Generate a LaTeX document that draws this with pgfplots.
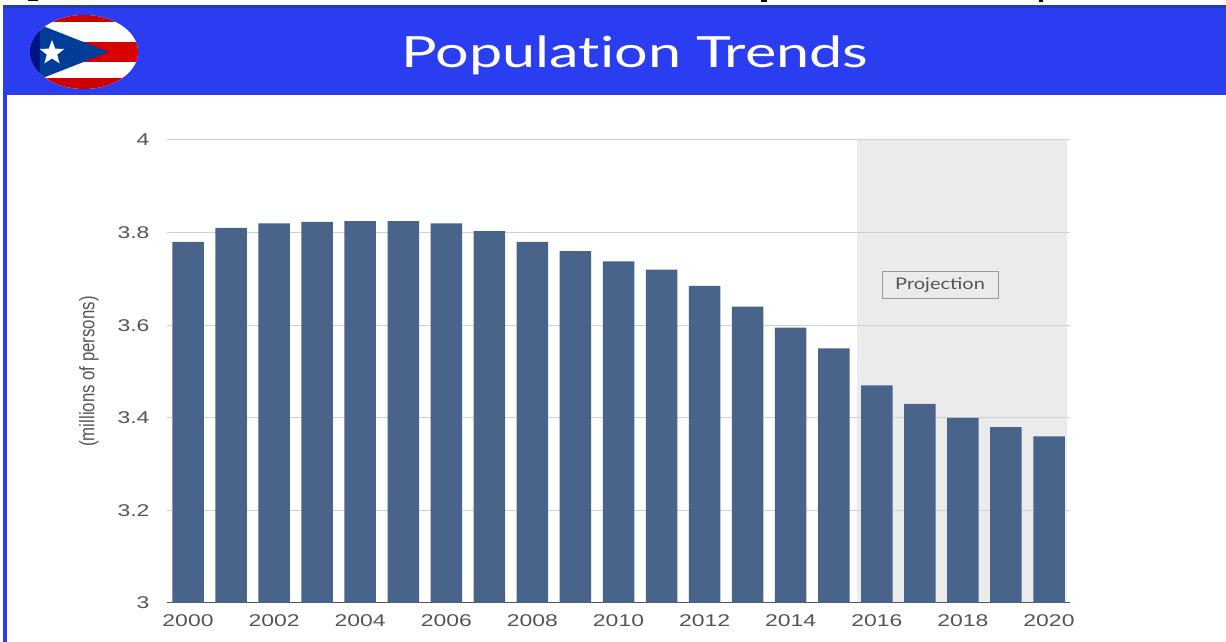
\documentclass[border=0pt]{standalone}
\usepackage{fontspec}
\setmainfont{Liberation Sans}
\newfontfamily\widefont[FakeStretch=1.35]{Liberation Sans}
\newfontfamily\labelfont[FakeStretch=0.8]{Liberation Sans}
\newfontfamily\titlefont[FakeStretch=1.38,Ligatures=NoCommon]{Lato}
\newfontfamily\boxfont[FakeStretch=1.25]{Lato}
\usepackage{pgfplots}
\pgfplotsset{compat=1.18}
\usepackage{pgfplotstable}
\usetikzlibrary{shapes.geometric}

\definecolor{header}{HTML}{2A3DF0}
\definecolor{headerdark}{HTML}{1F3FB0}
\definecolor{barblue}{HTML}{48648A}
\definecolor{band}{HTML}{EBEBEC}
\definecolor{gridgray}{HTML}{D0D0D0}
\definecolor{labelgray}{HTML}{555555}

\pgfplotstableread{
year pop
2000 3.780
2001 3.810
2002 3.820
2003 3.823
2004 3.825
2005 3.825
2006 3.820
2007 3.803
2008 3.780
2009 3.760
2010 3.738
2011 3.720
2012 3.685
2013 3.640
2014 3.595
2015 3.550
2016 3.470
2017 3.430
2018 3.400
2019 3.380
2020 3.360
}\poptable

\begin{document}
\begin{tikzpicture}
    \begin{scope}[x=1pt,y=1pt]
    \useasboundingbox (0,0) rectangle (1226,642);

    % page furniture, coordinates are pixels with y counted from the bottom
    % bits of the cropped caption line above the header
    \fill[black] (28,642) rectangle (38,641);
    \fill[black] (761,642) rectangle (767,640);
    \fill[black] (1039,642) rectangle (1043,640);
    \fill[header] (3,0) rectangle (7,636);
    \fill[header] (3,547) rectangle (1226,636);
    \fill[headerdark] (3,634) rectangle (1226,637);
    \node[anchor=base,text=white,font=\titlefont\fontsize{43}{43}\selectfont,inner sep=0pt] at (635,574) {Population Trends};

    % flag
    \begin{scope}
        \clip (84,590) ellipse (54 and 37);
        \fill[white] (30,553) rectangle (138,627);
        \fill[red!80!black] (30,620) rectangle (138,627);
        \fill[red!85!black] (30,580) rectangle (138,600);
        \fill[red!80!black] (30,553) rectangle (138,564);
        \fill[blue!60!cyan!60!black] (30,621) -- (109,590) -- (30,559) -- cycle;
        \fill[blue!50!black,opacity=.7] (30,553) rectangle (40,627);
    \end{scope}
    \node[star,star points=5,star point ratio=2.4,fill=white,minimum size=26pt,inner sep=0pt] at (52,589) {};
    \end{scope}

    \begin{axis}[
        at={(167pt,39pt)},
        anchor=south west,
        scale only axis,
        width=903pt,
        height=463pt,
        set layers=standard,
        xmin=1999.512, xmax=2020.488,
        ymin=3, ymax=4,
        axis x line=bottom,
        axis y line=left,
        x axis line style={-,color=labelgray,line width=1pt},
        y axis line style={draw=none},
        major tick length=0pt,
        xtick={2000,2002,...,2020},
        ytick={3,3.2,3.4,3.6,3.8,4},
        yticklabels={3,3.2,3.4,3.6,3.8,4},
        /pgf/number format/1000 sep={},
        /pgf/number format/assume math mode=true,
        xticklabel style={font=\widefont\fontsize{17}{17}\selectfont,text=labelgray,yshift=-8pt},
        yticklabel style={font=\widefont\fontsize{17}{17}\selectfont,text=labelgray,xshift=-14pt},
        ymajorgrids,
        grid style={color=gridgray,line width=1pt},
        ylabel={(millions of persons)},
        ylabel shift=12pt,
        ylabel style={font=\labelfont\fontsize{21}{21}\selectfont,text=labelgray},
    ]

    % projection band
    \addplot[draw=none,fill=band,on layer=axis background] coordinates {
        (2015.54, 4)
        (2020.42, 4)
    } \closedcycle;

    \addplot[ybar,bar width=31.5pt,fill=barblue,draw=none] table[x=year,y=pop] {\poptable};

    \node[draw=gray!80,line width=1pt,fill=band,text=labelgray,inner sep=0pt,
          minimum width=116pt,minimum height=27pt,font=\boxfont\fontsize{16}{16}\selectfont]
        at (axis cs:2017.47,3.686) {Projection};

    \end{axis}
\end{tikzpicture}
\end{document}
